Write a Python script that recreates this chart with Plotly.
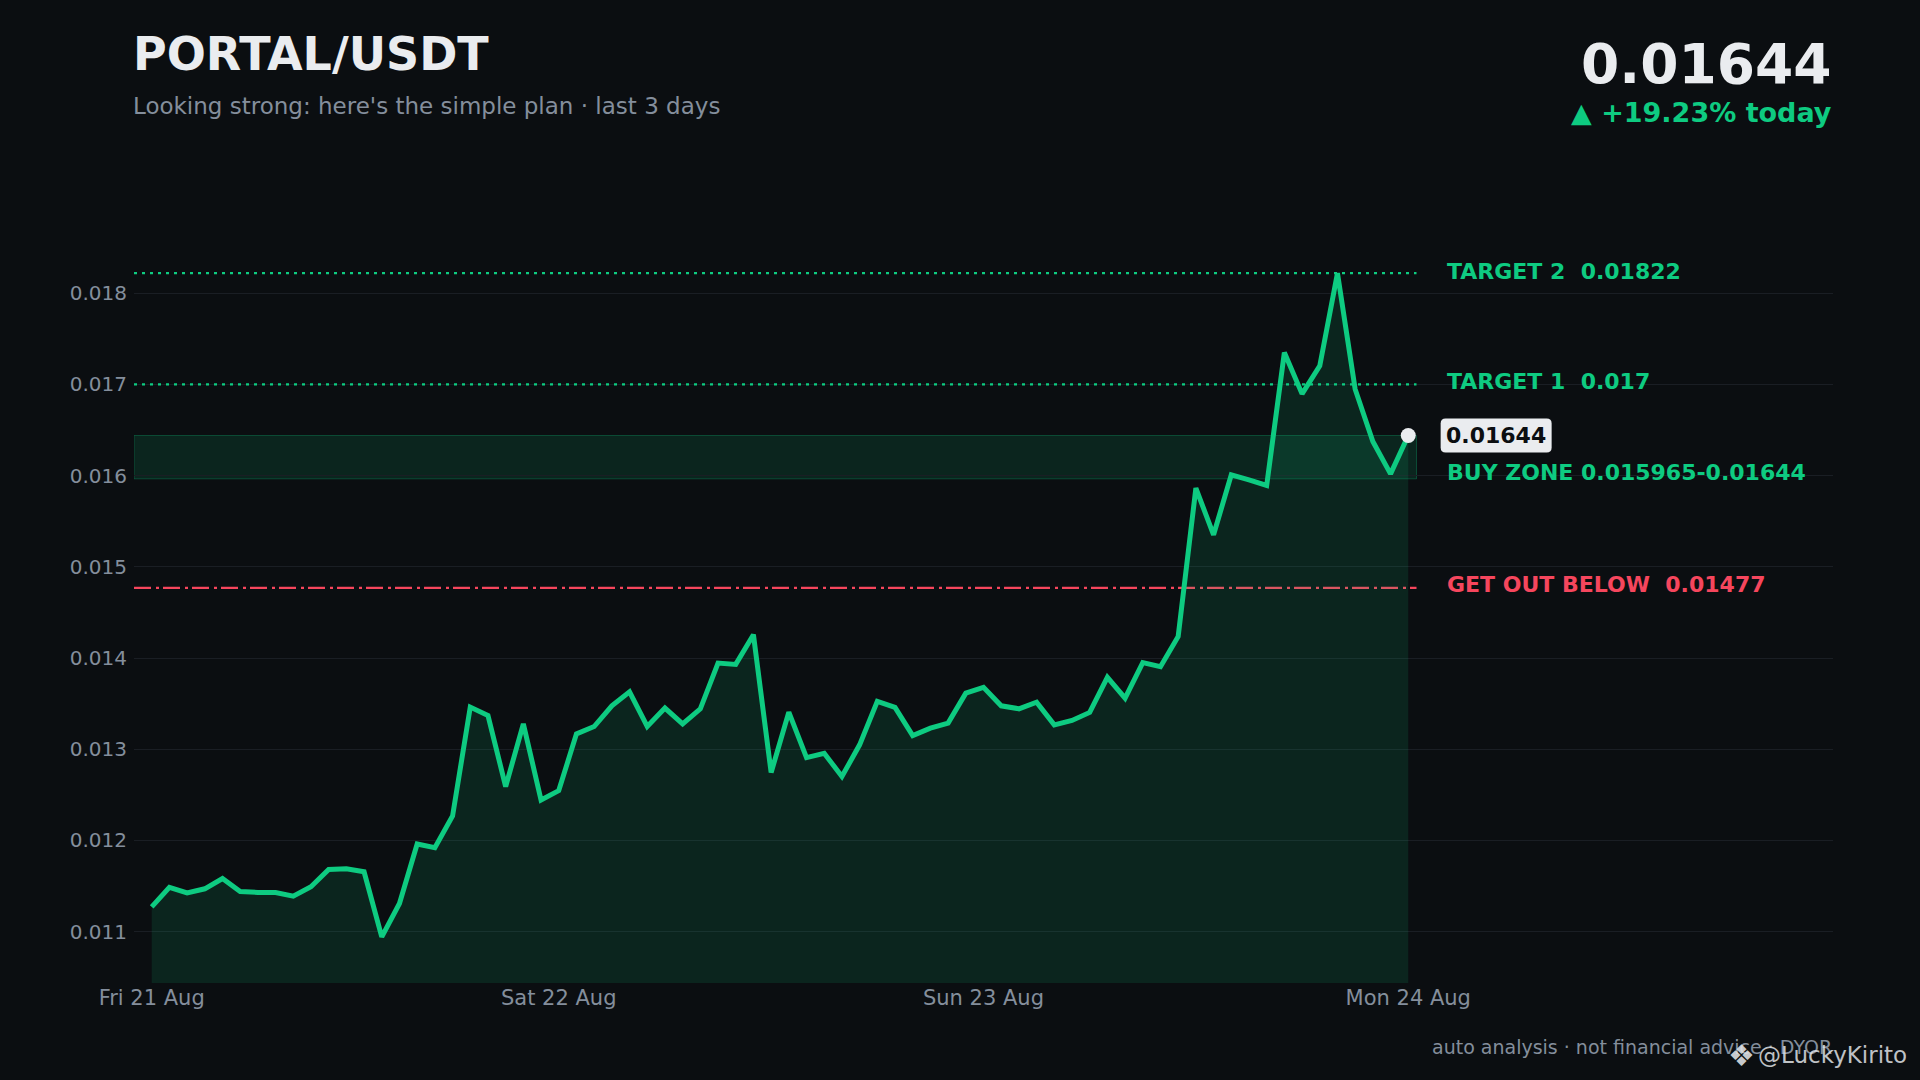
import pandas as pd
import plotly.graph_objects as go

# chart values
pair = "PORTAL/USDT"
subtitle = "Looking strong: here's the simple plan · last 3 days"
last_price = 0.01644
change_pct = 19.23
target_1 = 0.017
target_2 = 0.01822
buy_low = 0.015965
buy_high = 0.01644
stop_level = 0.01477

times = pd.date_range("2020-08-21 01:00", periods=72, freq="h")
prices = [
    0.011271, 0.011484, 0.011425, 0.011469, 0.011582, 0.011440, 0.011429, 0.011429,
    0.011388, 0.011491, 0.011681, 0.011689, 0.011656, 0.010941, 0.011308, 0.011960,
    0.011919, 0.012267, 0.013462, 0.013370, 0.012590, 0.013278, 0.012443, 0.012546,
    0.013168, 0.013249, 0.013476, 0.013630, 0.013249, 0.013451, 0.013278, 0.013443,
    0.013945, 0.013930, 0.014256, 0.012744, 0.013407, 0.012908, 0.012956, 0.012700,
    0.013048, 0.013524, 0.013458, 0.013150, 0.013231, 0.013286, 0.013615, 0.013678,
    0.013476, 0.013443, 0.013516, 0.013267, 0.013315, 0.013403, 0.013788, 0.013560,
    0.013950, 0.013905, 0.014237, 0.015863, 0.015351, 0.016009, 0.015954, 0.015892,
    0.017350, 0.016897, 0.017204, 0.018220, 0.016948, 0.016374, 0.016020, 0.016440,
]
x_ticks = [times[0], "2020-08-22", "2020-08-23", "2020-08-24"]
x_tick_text = ["Fri 21 Aug", "Sat 22 Aug", "Sun 23 Aug", "Mon 24 Aug"]
y_ticks = [0.011, 0.012, 0.013, 0.014, 0.015, 0.016, 0.017, 0.018]

BG = "#0b0e11"
WHITE = "#eaecef"
GRAY = "#848e9c"
GREEN = "#0ecb81"
RED = "#f6465d"
FONT = "DejaVu Sans"

# plot box in pixels
L, R, T, B = 134, 1833, 200, 983
x_start = pd.Timestamp("2020-08-21 00:00")
x_end = pd.Timestamp("2020-08-25 00:00")
line_end = times[-1] + pd.Timedelta(minutes=28)
label_x = times[-1] + pd.Timedelta(hours=2.1)
badge_x = times[-1] + pd.Timedelta(hours=1.83)


def px(x):
    return (x - L) / (R - L)


def py(y):
    return (B - y) / (B - T)


fig = go.Figure()
fig.add_trace(go.Scatter(
    x=times, y=prices, mode="lines", fill="tozeroy",
    fillcolor="rgba(14,203,129,0.12)",
    line=dict(color=GREEN, width=5), hoverinfo="skip",
))
fig.add_trace(go.Scatter(
    x=[times[-1]], y=[prices[-1]], mode="markers",
    marker=dict(color=WHITE, size=15), hoverinfo="skip",
))

# buy zone band
fig.add_shape(type="rect", xref="x", yref="y", x0=x_start, x1=line_end,
              y0=buy_low, y1=buy_high, fillcolor="rgba(14,203,129,0.12)",
              line=dict(color="rgba(14,203,129,0.28)", width=1), layer="below")
# targets and stop
for lvl in [target_2, target_1]:
    fig.add_shape(type="line", xref="x", yref="y", x0=x_start, x1=line_end,
                  y0=lvl, y1=lvl, line=dict(color=GREEN, width=2.3, dash="3px,5px"),
                  layer="between")
fig.add_shape(type="line", xref="x", yref="y", x0=x_start, x1=line_end,
              y0=stop_level, y1=stop_level,
              line=dict(color=RED, width=2.3, dash="17px,5px,3px,4px"), layer="between")

side_labels = [
    (target_2, f"TARGET 2\u00a0\u00a0{target_2}", GREEN, 2),
    (target_1, f"TARGET 1\u00a0\u00a0{target_1}", GREEN, 3),
    (buy_low, f"BUY ZONE {buy_low}-{buy_high}", GREEN, 6),
    (stop_level, f"GET OUT BELOW\u00a0\u00a0{stop_level}", RED, 3),
]
for lvl, txt, col, shift in side_labels:
    fig.add_annotation(x=label_x, y=lvl, xref="x", yref="y", text=f"<b>{txt}</b>",
                       showarrow=False, xanchor="left", yanchor="middle", yshift=shift,
                       font=dict(family=FONT, size=22, color=col))

# last price badge (rounded box + text)
fig.add_shape(type="path", xref="x", yref="y", xsizemode="pixel", ysizemode="pixel",
              xanchor=badge_x, yanchor=last_price,
              path="M5,-17 L106,-17 Q111,-17 111,-12 L111,12 Q111,17 106,17 "
                   "L5,17 Q0,17 0,12 L0,-12 Q0,-17 5,-17 Z",
              fillcolor=WHITE, line=dict(width=0), layer="above")
fig.add_annotation(x=badge_x, y=last_price, xref="x", yref="y", xshift=55.5,
                   text=f"<b>{last_price}</b>", showarrow=False, xanchor="center",
                   yanchor="middle", font=dict(family=FONT, size=22, color="#0b0e11"))

# header and footer
fig.add_annotation(x=px(131), y=py(54), xref="paper", yref="paper", text=f"<b>{pair}</b>",
                   showarrow=False, xanchor="left", yanchor="middle",
                   font=dict(family=FONT, size=46, color=WHITE))
fig.add_annotation(x=px(131), y=py(106), xref="paper", yref="paper", text=subtitle,
                   showarrow=False, xanchor="left", yanchor="middle",
                   font=dict(family=FONT, size=23, color=GRAY))
fig.add_annotation(x=px(1834), y=py(64), xref="paper", yref="paper", text=f"<b>{last_price}</b>",
                   showarrow=False, xanchor="right", yanchor="middle",
                   font=dict(family=FONT, size=55, color=WHITE))
fig.add_annotation(x=px(1834), y=py(112), xref="paper", yref="paper",
                   text=f"<b>▲ +{change_pct}% today</b>",
                   showarrow=False, xanchor="right", yanchor="middle",
                   font=dict(family=FONT, size=27, color=GREEN))
fig.add_annotation(x=px(1834), y=py(1047), xref="paper", yref="paper",
                   text="auto analysis · not financial advice · DYOR",
                   showarrow=False, xanchor="right", yanchor="middle",
                   font=dict(family=FONT, size=19, color=GRAY))
fig.add_annotation(x=px(1726), y=py(1055), xref="paper", yref="paper",
                   text="❖",
                   showarrow=False, xanchor="left", yanchor="middle",
                   font=dict(family=FONT, size=30, color="rgba(225,228,232,0.9)"))
fig.add_annotation(x=px(1756), y=py(1055), xref="paper", yref="paper",
                   text="@LuckyKirito",
                   showarrow=False, xanchor="left", yanchor="middle",
                   font=dict(family=FONT, size=23, color="rgba(225,228,232,0.85)"))

fig.update_layout(
    width=1920, height=1080, autosize=False,
    margin=dict(l=L, r=1920 - R, t=T, b=1080 - B),
    paper_bgcolor=BG, plot_bgcolor=BG, showlegend=False,
    font=dict(family=FONT, color=GRAY),
)
fig.update_xaxes(range=[x_start, x_end], showgrid=False, zeroline=False, showline=False,
                 tickvals=x_ticks, ticktext=x_tick_text, ticks="",
                 tickfont=dict(family=FONT, size=21, color=GRAY))
fig.update_yaxes(range=[0.010436, 0.019023], tickvals=y_ticks, tickformat=".3f",
                 gridcolor="#1a1e24", gridwidth=1, zeroline=False, showline=False,
                 ticks="outside", ticklen=2, tickcolor="rgba(0,0,0,0)",
                 tickfont=dict(family=FONT, size=20, color=GRAY))

fig.write_html("out.html", config={"displayModeBar": False},
               post_script="document.body.style.margin='0';document.body.style.background='#0b0e11';")
